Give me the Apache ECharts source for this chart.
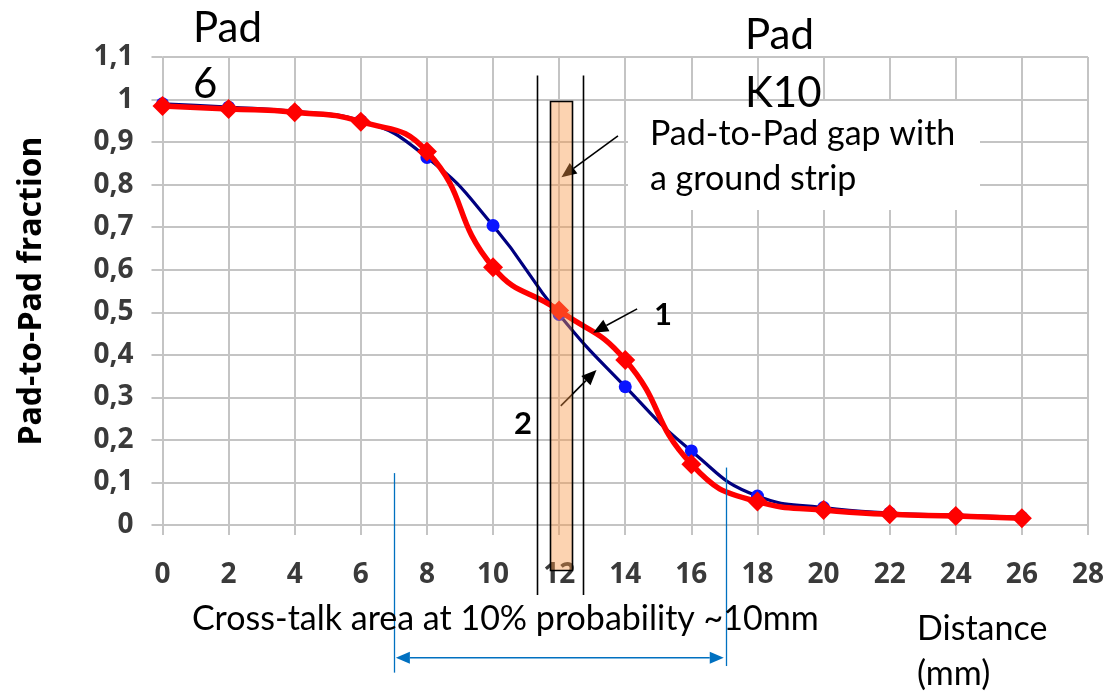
<!DOCTYPE html>
<html>
<head>
<meta charset="utf-8">
<script src="https://cdn.jsdelivr.net/npm/echarts@6/dist/echarts.min.js"></script>
<style>
  html, body { margin: 0; padding: 0; background: #ffffff; }
  #chart { width: 1107px; height: 691px; }
</style>
</head>
<body>
<div id="chart"></div>
<script>
// Distance across the pad boundary (mm)
const distance = [0, 2, 4, 6, 8, 10, 12, 14, 16, 18, 20, 22, 24, 26];
// Curve 1: pad-to-pad fraction with the ground strip (red diamonds)
const fraction1 = [0.985, 0.978, 0.970, 0.948, 0.878, 0.606, 0.504, 0.388, 0.143, 0.055, 0.035, 0.025, 0.021, 0.016];
// Curve 2: pad-to-pad fraction (navy line, blue dots)
const fraction2 = [0.990, 0.982, 0.972, 0.950, 0.864, 0.704, 0.495, 0.325, 0.174, 0.068, 0.041, 0.028, 0.023, 0.018];

const xTicks = { min: 0, max: 28, step: 2 };
const yTicks = { min: 0, max: 1.1, step: 0.1 };

// Annotation anchors in data units (mm, fraction)
const gapEdges = [11.32, 12.71];          // thin black lines bounding the gap
const stripSpan = [11.71, 12.39];         // ground strip
const crossTalk = [7.0, 17.05];           // cross-talk extent at 10 %

const AXIS_FONT = '"Open Sans", sans-serif';
const NOTE_FONT = 'Lato, "Open Sans", sans-serif';
const chart = echarts.init(document.getElementById('chart'), null, { renderer: 'canvas' });

const decimalComma = v => (Math.round(v * 10) / 10).toString().replace('.', ',');

const option = {
  backgroundColor: '#ffffff',
  animation: false,
  grid: { left: 162.5, right: 18.5, top: 57, bottom: 166, containLabel: false },
  xAxis: {
    type: 'value', min: xTicks.min, max: xTicks.max, interval: xTicks.step,
    axisLine: { show: true, lineStyle: { color: '#c4c4c4', width: 2 } },
    axisTick: { show: true, length: 10, lineStyle: { color: '#c4c4c4', width: 2 } },
    splitLine: { show: true, lineStyle: { color: '#c4c4c4', width: 2 } },
    axisLabel: { margin: 36, color: '#3a3a3a', fontFamily: AXIS_FONT, fontWeight: 'bold', fontSize: 28 }
  },
  yAxis: {
    type: 'value', min: yTicks.min, max: yTicks.max, interval: yTicks.step,
    name: 'Pad-to-Pad fraction', nameLocation: 'middle', nameGap: 115, nameRotate: 90,
    nameTextStyle: { color: '#000000', fontFamily: AXIS_FONT, fontWeight: 'bold', fontSize: 32 },
    axisLine: { show: false },
    axisTick: { show: true, length: 11, lineStyle: { color: '#c4c4c4', width: 2 } },
    splitLine: { show: true, lineStyle: { color: '#c4c4c4', width: 2 } },
    axisLabel: { margin: 29, color: '#3a3a3a', fontFamily: AXIS_FONT, fontWeight: 'bold', fontSize: 28,
                 formatter: decimalComma }
  },
  series: [
    {
      name: '2', type: 'line', smooth: 0.5, z: 3,
      data: distance.map((d, i) => [d, fraction2[i]]),
      symbol: 'circle', symbolSize: 13,
      lineStyle: { color: '#00007f', width: 3.2 },
      itemStyle: { color: '#0a14ff' }
    },
    {
      name: '1', type: 'line', smooth: 0.5, z: 4,
      data: distance.map((d, i) => [d, fraction1[i]]),
      symbol: 'diamond', symbolSize: 20,
      lineStyle: { color: '#ff0000', width: 5.5 },
      itemStyle: { color: '#ff0000' }
    }
  ]
};
chart.setOption(option);

// ---- annotations ----
const P = (x, y) => chart.convertToPixel({ gridIndex: 0 }, [x, y]);

function arrow(from, to, color, width, headLen, headW, z) {
  const a = P(from[0], from[1]), b = P(to[0], to[1]);
  const dx = b[0] - a[0], dy = b[1] - a[1];
  const len = Math.hypot(dx, dy), ux = dx / len, uy = dy / len;
  const bx = b[0] - ux * headLen, by = b[1] - uy * headLen;
  const nx = -uy * headW / 2, ny = ux * headW / 2;
  return [
    { type: 'line', z: z, shape: { x1: a[0], y1: a[1], x2: bx, y2: by }, style: { stroke: color, lineWidth: width } },
    { type: 'polygon', z: z, shape: { points: [[b[0], b[1]], [bx + nx, by + ny], [bx - nx, by - ny]] }, style: { fill: color } }
  ];
}

function doubleArrow(x1, x2, y, color, width, headLen, headW, z) {
  const a = P(x1, y), b = P(x2, y);
  return [
    { type: 'line', z: z, shape: { x1: a[0] + headLen, y1: a[1], x2: b[0] - headLen, y2: b[1] }, style: { stroke: color, lineWidth: width } },
    { type: 'polygon', z: z, shape: { points: [[a[0], a[1]], [a[0] + headLen, a[1] - headW / 2], [a[0] + headLen, a[1] + headW / 2]] }, style: { fill: color } },
    { type: 'polygon', z: z, shape: { points: [[b[0], b[1]], [b[0] - headLen, b[1] - headW / 2], [b[0] - headLen, b[1] + headW / 2]] }, style: { fill: color } }
  ];
}

function vline(x, y1, y2, color, width, z) {
  const a = P(x, y1), b = P(x, y2);
  return { type: 'line', z: z, shape: { x1: Math.round(a[0]) + 0.5, y1: a[1], x2: Math.round(b[0]) + 0.5, y2: b[1] }, style: { stroke: color, lineWidth: width } };
}

// text placed by its baseline (Lato: baseline sits ~0.82 em below the top of the line box)
function text(str, x, baseline, size, weight) {
  return { type: 'text', z: 20, x: x, y: baseline - 0.82 * size,
           style: { text: str, fill: '#000000', font: `${weight || 'normal'} ${size}px ${NOTE_FONT}`, verticalAlign: 'top', align: 'left' } };
}

const g = [];

// white text panel for the strip caption
g.push({ type: 'rect', z: 8, shape: { x: 628, y: 101, width: 352, height: 109 }, style: { fill: '#ffffff' } });

// arrows (drawn below the translucent strip)
g.push(...arrow([13.78, 0.9146], [12.07, 0.8175], '#000000', 1.6, 15, 13, 9));
g.push(...arrow([14.36, 0.508], [13.03, 0.452], '#000000', 1.6, 15, 13, 9));
g.push(...arrow([12.05, 0.28], [13.13, 0.3645], '#000000', 1.6, 15, 13, 9));

// ground strip
{
  const tl = P(stripSpan[0], 0.997), br = P(stripSpan[1], -0.1058);
  g.push({ type: 'rect', z: 12,
    shape: { x: Math.round(tl[0]) + 0.5, y: Math.round(tl[1]) + 0.5, width: Math.round(br[0] - tl[0]), height: Math.round(br[1] - tl[1]) },
    style: { fill: 'rgba(247,150,70,0.42)', stroke: '#000000', lineWidth: 1.6 } });
}

// gap boundaries
gapEdges.forEach(x => g.push(vline(x, 1.0565, -0.1646, '#000000', 1.6, 13)));

// cross-talk extent
g.push(vline(crossTalk[0], 0.122, -0.347, '#0070c0', 1.3, 13));
g.push(vline(crossTalk[1], 0.135, -0.3315, '#0070c0', 1.3, 13));
g.push(...doubleArrow(crossTalk[0] + 0.06, crossTalk[1] - 0.07, -0.312, '#0070c0', 1.6, 14, 12, 13));

// captions
g.push(text('Pad', 193, 42, 42));
g.push(text('6', 193, 98, 42));
g.push(text('Pad', 745, 49, 42));
g.push(text('K10', 745, 107, 42));
g.push(text('Pad-to-Pad gap with', 650, 145, 34));
g.push(text('a ground strip', 650, 190, 34));
g.push(text('1', 654, 325, 31, 'bold'));
g.push(text('2', 514, 434, 31, 'bold'));
g.push(text('Cross-talk area at 10% probability ~10mm', 192, 630, 34));
g.push(text('Distance', 917, 640, 34));
g.push(text('(mm)', 917, 685, 34));

chart.setOption({ graphic: g });
</script>
</body>
</html>
